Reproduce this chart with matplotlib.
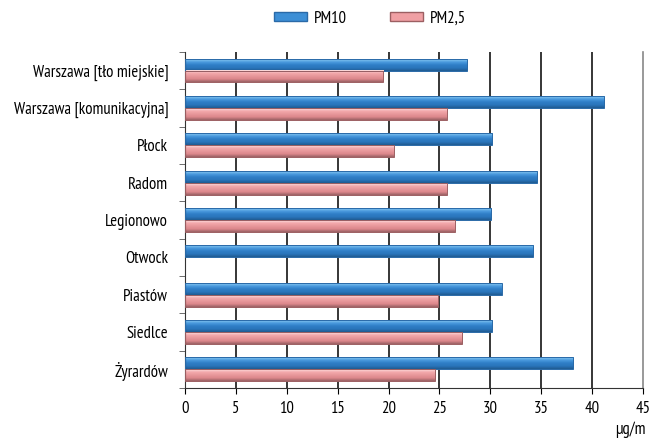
import matplotlib
matplotlib.use("Agg")
import matplotlib.pyplot as plt
import numpy as np
from matplotlib.colors import LinearSegmentedColormap
from matplotlib import font_manager
from matplotlib.patches import Patch

names = {f.name for f in font_manager.fontManager.ttflist}
fam = next((f for f in ['PT Sans Narrow', 'Fira Sans Condensed', 'Archivo Narrow', 'DejaVu Sans'] if f in names), 'DejaVu Sans')
plt.rcParams['font.family'] = [fam, 'DejaVu Sans']

categories = ["Warszawa [tło miejskie]", "Warszawa [komunikacyjna]", "Płock", "Radom",
              "Legionowo", "Otwock", "Piastów", "Siedlce", "Żyrardów"]
pm10 = [27.7, 41.2, 30.2, 34.6, 30.1, 34.2, 31.1, 30.2, 38.1]
pm25 = [19.5, 25.7, 20.5, 25.7, 26.5, np.nan, 24.9, 27.2, 24.6]
xticks = [0, 5, 10, 15, 20, 25, 30, 35, 40, 45]
unit_label = "µg/m"

FS = 12

fig = plt.figure(figsize=(6.51, 4.43), dpi=100)
ax = fig.add_axes([0.284, 0.124, 0.704, 0.759])

n = len(categories)
y = np.arange(n)
h = 0.32

blue_cmap = LinearSegmentedColormap.from_list("b", ["#8ccbf2", "#4a9ade", "#2f7ec6", "#2a75bb", "#1f5a90"])
pink_cmap = LinearSegmentedColormap.from_list("p", ["#fde0e1", "#f3a9ac", "#e8979b", "#dc878b", "#9a6164"])
grad = np.linspace(0, 1, 64).reshape(-1, 1)

def gbar(vals, offset, cmap, edge):
    bars = ax.barh(y + offset, vals, height=h, color='none', edgecolor=edge, linewidth=0.7, zorder=3)
    for b in bars:
        w = b.get_width()
        if not np.isfinite(w):
            continue
        x0, y0 = b.get_x(), b.get_y()
        ax.imshow(grad, cmap=cmap, aspect='auto', extent=(x0, x0 + w, y0 + b.get_height(), y0),
                  zorder=2.5, interpolation='bilinear')
    return bars

gbar(pm10, -h / 2, blue_cmap, "#2a6aa8")
gbar(pm25, h / 2, pink_cmap, "#9c5f62")

ax.set_xlim(0, 45)
ax.set_ylim(n - 0.5, -0.5)
ax.set_xticks(xticks)
ax.set_xticklabels([str(t) for t in xticks], fontsize=FS)
for t in xticks[1:-1]:
    ax.axvline(t, color='black', lw=1.1, zorder=1)
ax.axvline(45, color='#888888', lw=1.2, zorder=1, clip_on=False)

ax.set_yticks(y)
ax.set_yticklabels(categories, fontsize=FS)
ax.tick_params(axis='y', length=0, pad=12)
ax.set_yticks(np.arange(-0.5, n, 1), minor=True)
ax.tick_params(axis='y', which='minor', length=4, color='#555555')
ax.tick_params(axis='x', length=4, color='black', pad=5)

for s in ['top', 'right']:
    ax.spines[s].set_visible(False)
ax.spines['left'].set_color('#333333')
ax.spines['bottom'].set_color('#333333')
ax.set_xlim(0, 45)

handles = [Patch(facecolor="#3d8fd6", edgecolor="#2a6aa8"),
           Patch(facecolor="#f0a0a4", edgecolor="#9c5f62")]
fig.legend(handles, ["PM10", "PM2,5"], loc='center', bbox_to_anchor=(0.568, 0.958), ncol=2,
           frameon=False, fontsize=FS, handlelength=2.0, handleheight=0.5, columnspacing=2.6,
           handletextpad=0.4)

fig.text(0.992, 0.012, unit_label, ha='right', va='bottom', fontsize=FS)

fig.savefig("out.png", dpi=100)
